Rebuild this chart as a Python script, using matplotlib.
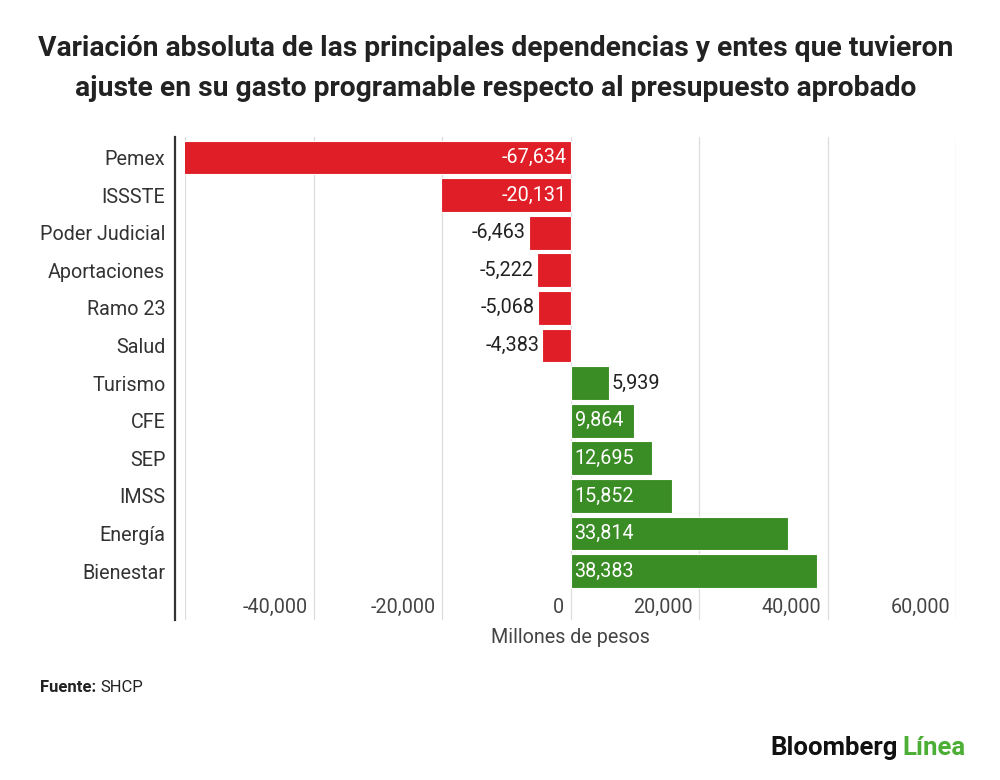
import matplotlib
matplotlib.use("Agg")
import matplotlib.pyplot as plt
from matplotlib.transforms import ScaledTranslation

categories = ["Pemex", "ISSSTE", "Poder Judicial", "Aportaciones", "Ramo 23", "Salud",
              "Turismo", "CFE", "SEP", "IMSS", "Energía", "Bienestar"]
values = [-67634, -20131, -6463, -5222, -5068, -4383,
          5939, 9864, 12695, 15852, 33814, 38383]
x_ticks = [-60000, -40000, -20000, 0, 20000, 40000, 60000]
x_tick_labels = ["", "-40,000", "-20,000", "0", "20,000", "40,000", "60,000"]

title = ("Variación absoluta de las principales dependencias y entes que tuvieron\n"
         "ajuste en su gasto programable respecto al presupuesto aprobado")

RED = "#e01e27"
GREEN = "#3a8c25"
FONT = "Roboto"
FS = 14.2

plt.rcParams["font.family"] = [FONT, "DejaVu Sans"]

fig = plt.figure(figsize=(10, 7.8), dpi=100)
ax = fig.add_axes([0.185, 1 - 620 / 780, 0.956 - 0.185, (620 - 137) / 780])

ypos = list(range(len(categories)))
colors = [RED if v < 0 else GREEN for v in values]
ax.barh(ypos, values, height=0.9, color=colors, edgecolor="white",
        linewidth=0.8, zorder=3)

ax.set_xlim(x_ticks[0], x_ticks[-1])
ax.set_ylim(len(categories) - 1 + 1.30, -0.545)

ax.set_yticks(ypos)
ax.set_yticklabels(categories)
ax.set_xticks(x_ticks)
ax.set_xticklabels(x_tick_labels)
ax.tick_params(axis="y", length=0, pad=7, labelsize=FS, labelcolor="#333333")
ax.tick_params(axis="x", length=0, pad=-16, labelsize=FS, labelcolor="#444444")
for lab in ax.get_xticklabels():
    lab.set_ha("right")
    lab.set_transform(lab.get_transform() + ScaledTranslation(-6 / 100, 0, fig.dpi_scale_trans))

ax.grid(axis="x", color="#dddddd", linewidth=0.9, zorder=0)
ax.grid(axis="y", visible=False)
for s in ["top", "right", "bottom"]:
    ax.spines[s].set_visible(False)
ax.spines["left"].set_position(("outward", 7.2))
ax.spines["left"].set_color("#333333")
ax.spines["left"].set_linewidth(1.6)

ax.set_xlabel("Millones de pesos", fontsize=FS, color="#444444", labelpad=6)

# value labels
for y, v in zip(ypos, values):
    txt = f"{v:,}"
    inside = abs(v) > 9000
    if v < 0:
        if inside:
            ax.annotate(txt, (0, y), xytext=(-4, 0), textcoords="offset pixels",
                        ha="right", va="center", color="white", fontsize=FS, zorder=4)
        else:
            ax.annotate(txt, (v, y), xytext=(-3, 0), textcoords="offset pixels",
                        ha="right", va="center", color="#222222", fontsize=FS, zorder=4)
    else:
        if inside:
            ax.annotate(txt, (0, y), xytext=(4, 0), textcoords="offset pixels",
                        ha="left", va="center", color="white", fontsize=FS, zorder=4)
        else:
            ax.annotate(txt, (v, y), xytext=(3, 0), textcoords="offset pixels",
                        ha="left", va="center", color="#222222", fontsize=FS, zorder=4)

fig.text(0.496, 1 - 68.5 / 780, title, ha="center", va="center", fontsize=20.3,
         fontweight="bold", color="#222222", linespacing=1.65)

t_src = fig.text(0.040, 1 - 688 / 780, "Fuente:", ha="left", va="center", fontsize=12,
                 fontweight="bold", color="#222222")
ax.annotate("SHCP", xy=(1, 0.5), xycoords=t_src, xytext=(4, 0),
            textcoords="offset pixels", ha="left", va="center", fontsize=12,
            color="#222222", annotation_clip=False)

t_b = fig.text(0.770, 1 - 748 / 780, "Bloomberg", ha="left", va="center", fontsize=18.5,
               fontweight="bold", color="#111111")
ax.annotate("Línea", xy=(1, 0.5), xycoords=t_b, xytext=(5, 0),
            textcoords="offset pixels", ha="left", va="center", fontsize=18.5,
            fontweight="bold", color="#4caf35", annotation_clip=False)

fig.savefig("out.png", dpi=100, facecolor="white")
